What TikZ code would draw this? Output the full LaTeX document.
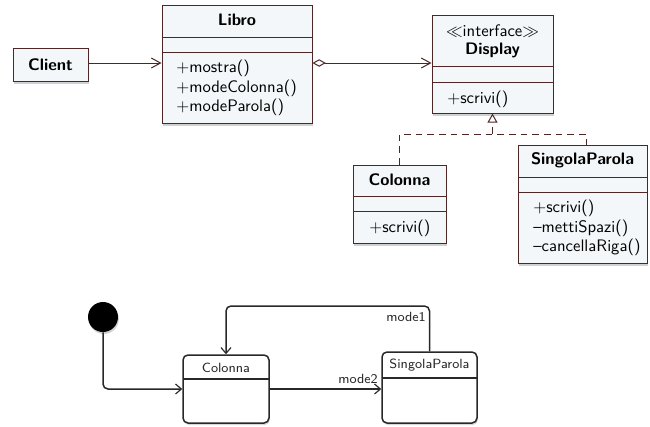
\documentclass[tikz,border=0pt]{standalone}
\usetikzlibrary{arrows.meta,shadows,fit}
\definecolor{umlborder}{RGB}{78,38,38}
\definecolor{umlfill}{RGB}{243,247,249}
\definecolor{stline}{RGB}{40,40,40}
\begin{document}
\begin{tikzpicture}[x=0.6pt,y=-0.6pt,
  font=\sffamily,
  classbox/.style={draw=umlborder, fill=umlfill, line width=0.6pt, inner sep=0pt,
    drop shadow={shadow xshift=0.4pt, shadow yshift=-1.8pt, opacity=0.3, fill=black!60}},
  divider/.style={draw=umlborder, line width=0.6pt},
  cname/.style={font=\sffamily\bfseries, inner sep=0pt},
  meth/.style={align=left, anchor=north west, inner sep=0pt, font=\sffamily\fontsize{10}{11.6}\selectfont},
  conn/.style={draw=umlborder, line width=0.6pt},
  openarrow/.style={-{Straight Barb[length=5.5pt,width=6pt,line width=0.6pt]}},
  state/.style={draw=stline, fill=white, line width=0.9pt, rounded corners=3pt, inner sep=0pt,
    drop shadow={shadow xshift=0.5pt, shadow yshift=-1.2pt, opacity=0.25, fill=black!60}},
  stconn/.style={draw=stline, line width=0.9pt, rounded corners=3pt},
  starrow/.style={-{Straight Barb[length=3.5pt,width=6pt,line width=0.7pt]}},
  stlabel/.style={font=\sffamily\footnotesize, inner sep=0pt, text=stline}
]
\useasboundingbox (0,0) rectangle (650,426);

% ---------------- Client
\coordinate (c1) at (13,48); \coordinate (c2) at (88,81);
\node[classbox, fit=(c1)(c2)] (client) {};
\node[cname] (clientname) at (client.center) {Client};

% ---------------- Libro
\coordinate (l1) at (162,5); \coordinate (l2) at (312,123);
\node[classbox, fit=(l1)(l2)] (libro) {};
\node[cname] (libroname) at (237,20) {Libro};
\draw[divider] (162,37) -- (312,37);
\draw[divider] (162,52) -- (312,52);
\node[meth] (libromethods) at (176,60) {$+$mostra()\\$+$modeColonna()\\$+$modeParola()};

% ---------------- Display
\coordinate (d1) at (432,15); \coordinate (d2) at (553,113);
\node[classbox, fit=(d1)(d2)] (display) {};
\node[inner sep=0pt] (stereo) at (492.5,31) {$\ll$interface$\gg$};
\node[cname] (displayname) at (492.5,50) {Display};
\draw[divider] (432,66) -- (553,66);
\draw[divider] (432,82) -- (553,82);
\node[meth] (displaymethods) at (447,91) {$+$scrivi()};

% ---------------- Colonna
\coordinate (k1) at (353,165); \coordinate (k2) at (446,243);
\node[classbox, fit=(k1)(k2)] (colonna) {};
\node[cname] (colonnaname) at (399.5,180) {Colonna};
\draw[divider] (353,196) -- (446,196);
\draw[divider] (353,211) -- (446,211);
\node[meth] (colonnamethods) at (369,220) {$+$scrivi()};

% ---------------- SingolaParola
\coordinate (s1) at (518,145); \coordinate (s2) at (647,263);
\node[classbox, fit=(s1)(s2)] (sp) {};
\node[cname] (spname) at (582.5,160) {SingolaParola};
\draw[divider] (518,177) -- (647,177);
\draw[divider] (518,192) -- (647,192);
\node[meth] (spmethods) at (533,200) {$+$scrivi()\\\textendash mettiSpazi()\\\textendash cancellaRiga()};

% ---------------- class connectors
\draw[conn, openarrow] (client.east |- 0,63) -- (libro.west |- 0,63);
\draw[conn, {Diamond[open,length=8pt,width=4.5pt,line width=0.6pt]}-{Straight Barb[length=5.5pt,width=6pt,line width=0.6pt]}]
  (libro.east |- 0,63) -- (display.west |- 0,63);
\coordinate (j) at (492.5,134);
\coordinate (jr) at (586,134);
\draw[conn, dashed, dash pattern=on 4pt off 3pt] (colonna.north) |- (jr) -- (jr |- sp.north);
\draw[conn, dashed, dash pattern=on 4pt off 3pt, -{Triangle[open,length=5.5pt,width=6pt,line width=0.6pt]}] (j) -- (display.south);

% ---------------- state diagram
\node[circle, fill=black, minimum size=18pt, inner sep=0pt,
  drop shadow={shadow xshift=0.5pt, shadow yshift=-1.2pt, opacity=0.3, fill=black!60}] (init) at (103,317) {};

\coordinate (cs1) at (183,355); \coordinate (cs2) at (269,423);
\node[state, fit=(cs1)(cs2)] (colst) {};
\node[stlabel] (colstname) at (226,367.5) {Colonna};
\draw[draw=stline, line width=0.8pt] (183,379) -- (269,379);

\coordinate (ss1) at (382,352); \coordinate (ss2) at (477,423);
\node[state, fit=(ss1)(ss2)] (spst) {};
\node[stlabel] (spstname) at (429.5,365) {SingolaParola};
\draw[draw=stline, line width=0.8pt] (382,378) -- (477,378);

\draw[stconn, starrow] (init) |- (colst.west |- 0,389);
\draw[stconn, line width=1.1pt, starrow] (colst.east |- 0,389) -- (spst.west |- 0,389);
\node[stlabel] (mode2) at (358,379) {mode2};
\coordinate (topy) at (0,306);
\draw[stconn, starrow] (spst.north) |- (topy -| colst.north) -- (colst.north);
\node[stlabel] (mode1) at (406,316.5) {mode1};
\end{tikzpicture}
\end{document}
